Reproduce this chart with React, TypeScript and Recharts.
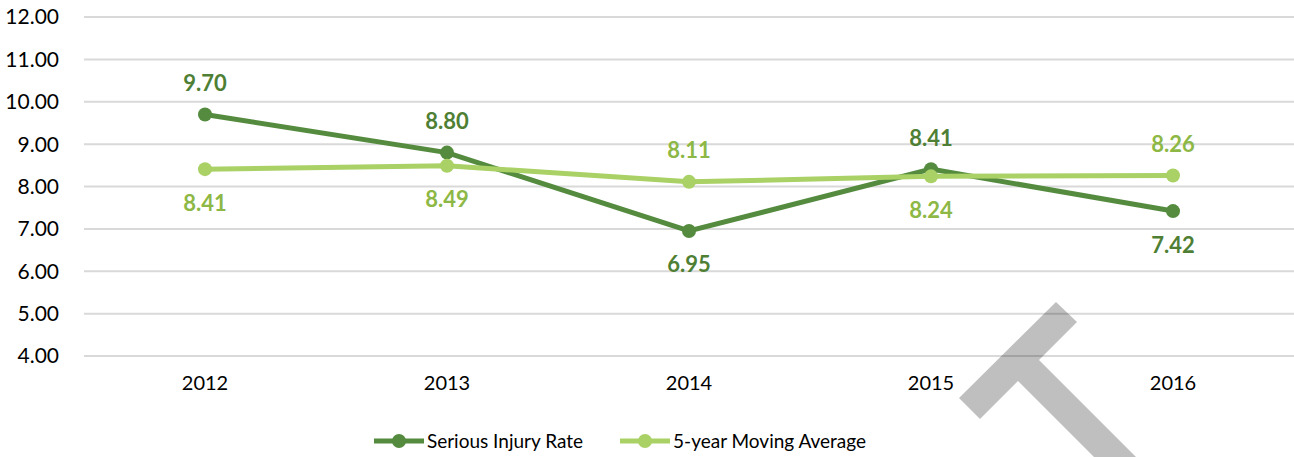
import React from 'react';
import { LineChart, Line, XAxis, YAxis, CartesianGrid, Legend, LabelList } from 'recharts';

const years = ['2012', '2013', '2014', '2015', '2016'];
const injuryRate = [9.7, 8.8, 6.95, 8.41, 7.42];
const movingAvg = [8.41, 8.49, 8.11, 8.24, 8.26];
const yTicks = [4, 5, 6, 7, 8, 9, 10, 11, 12];

// label side per point: true = above the marker
const injuryAbove = [true, true, false, true, false];
const avgAbove = [false, false, true, false, true];

const DARK = '#548b3e';
const DARK_LABEL = '#4e7f34';
const LIGHT = '#a9d165';
const LIGHT_LABEL = '#8db845';
const FONT = 'Lato, "DejaVu Sans", sans-serif';

const data = years.map((year, i) => ({
  year,
  injury: injuryRate[i],
  avg: movingAvg[i],
}));

const makeLabel = (above: boolean[], color: string) => (props: any) => {
  const { x, y, value, index } = props;
  const up = above[index];
  return (
    <text
      x={x}
      y={up ? y - 32 : y + 33}
      textAnchor="middle"
      dominantBaseline="central"
      fill={color}
      fontSize={22}
      fontWeight={700}
      fontFamily={FONT}
    >
      {Number(value).toFixed(2)}
    </text>
  );
};

const legendItems = [
  { name: 'Serious Injury Rate', color: DARK },
  { name: '5-year Moving Average', color: LIGHT },
];

const renderLegend = () => (
  <div
    style={{
      display: 'flex',
      justifyContent: 'center',
      alignItems: 'center',
      gap: 37,
      marginTop: 12,
      paddingRight: 54,
      fontFamily: FONT,
      fontSize: 19,
      color: '#000',
    }}
  >
    {legendItems.map((item) => (
      <div key={item.name} style={{ display: 'flex', alignItems: 'center' }}>
        <svg width={50} height={16} style={{ marginRight: 3 }}>
          <line x1={0} y1={8} x2={50} y2={8} stroke={item.color} strokeWidth={5} />
          <circle cx={25} cy={8} r={7} fill={item.color} />
        </svg>
        <span>{item.name}</span>
      </div>
    ))}
  </div>
);

export default function App() {
  return (
    <div style={{ position: 'absolute', left: 0, top: 0, width: 1294, height: 457, background: '#fff' }}>
      <LineChart width={1294} height={457} data={data} margin={{ top: 17, right: 0, left: 0, bottom: 0 }}>
        <CartesianGrid vertical={false} stroke="#d9d9d9" strokeWidth={2} />
        <XAxis
          dataKey="year"
          axisLine={false}
          tickLine={false}
          padding={{ left: 121, right: 121 }}
          height={61}
          tickMargin={14}
          tick={{ fill: '#000', fontSize: 20, fontFamily: FONT }}
        />
        <YAxis
          domain={[4, 12]}
          ticks={yTicks}
          width={84}
          axisLine={false}
          tickLine={false}
          tickMargin={19}
          tickFormatter={(v: number) => v.toFixed(2)}
          tick={{ fill: '#000', fontSize: 21, fontFamily: FONT }}
        />
        <Legend verticalAlign="bottom" height={40} content={renderLegend} />
        <Line
          type="linear"
          dataKey="injury"
          name="Serious Injury Rate"
          stroke={DARK}
          strokeWidth={5}
          dot={{ r: 7, fill: DARK, stroke: DARK, strokeWidth: 0 }}
          isAnimationActive={false}
        >
          <LabelList dataKey="injury" content={makeLabel(injuryAbove, DARK_LABEL)} />
        </Line>
        <Line
          type="linear"
          dataKey="avg"
          name="5-year Moving Average"
          stroke={LIGHT}
          strokeWidth={5}
          dot={{ r: 7, fill: LIGHT, stroke: LIGHT, strokeWidth: 0 }}
          isAnimationActive={false}
        >
          <LabelList dataKey="avg" content={makeLabel(avgAbove, LIGHT_LABEL)} />
        </Line>
      </LineChart>
      <svg width={1294} height={457} style={{ position: 'absolute', left: 0, top: 0, pointerEvents: 'none' }}>
        <polygon
          points="959,398 980,419 1018,381 1138,501 1180,501 1039,360 1077,322 1056,302"
          fill="#000"
          fillOpacity={0.25}
        />
      </svg>
    </div>
  );
}
